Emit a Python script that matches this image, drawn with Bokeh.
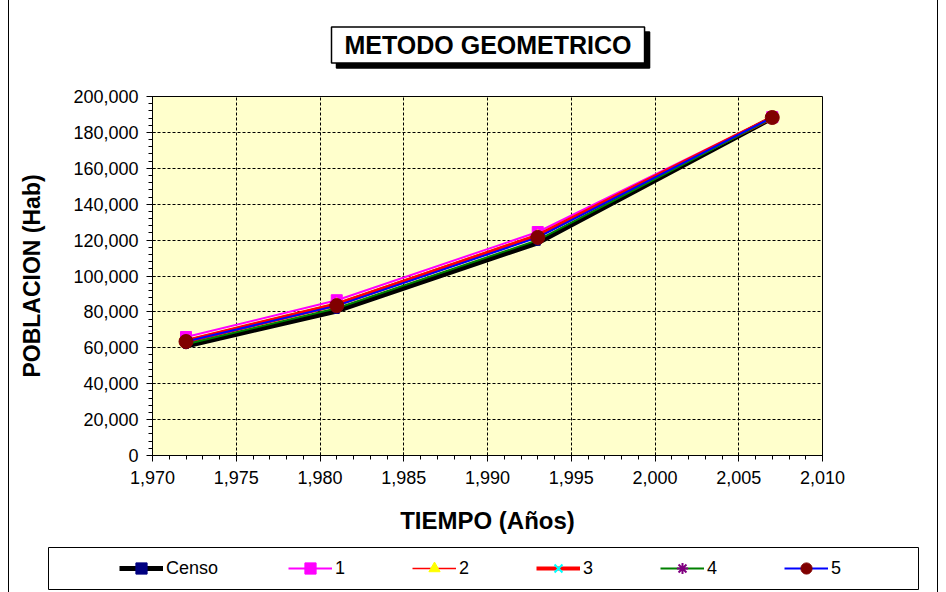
from bokeh.plotting import figure
from bokeh.layouts import column
from bokeh.models import Range1d, NumeralTickFormatter, FixedTicker, Label, Legend, LegendItem
from bokeh.embed import file_html
from bokeh.resources import INLINE

# ---- data ----
years = [1972, 1981, 1993, 2007]
censo = [61000, 80500, 118500, 188000]
serie1 = [66000, 86500, 124500, 188500]
serie2 = [64500, 85000, 123000, 188500]
serie3 = [63500, 84000, 122500, 188300]
serie4 = [62000, 82000, 120000, 188000]
serie5 = [63500, 83500, 121500, 188300]
series_names = ["Censo", "1", "2", "3", "4", "5"]
x_ticks = [1970, 1975, 1980, 1985, 1990, 1995, 2000, 2005, 2010]
y_ticks = [0, 20000, 40000, 60000, 80000, 100000, 120000, 140000, 160000, 180000, 200000]
x_minor = list(range(1970, 2011, 1))
y_minor = list(range(0, 200001, 4000))
chart_title = "METODO GEOMETRICO"

FONT = "Liberation Sans"
W = 928

# ---------------- title strip ----------------
tf = figure(width=W, height=80, output_backend="svg", toolbar_location=None,
            x_axis_type=None, y_axis_type=None, min_border=0, frame_align=False,
            outline_line_color=None, background_fill_color="white", border_fill_color="white")
tf.grid.visible = False
for fill, dx in (("black", 5), ("white", 0)):
    tf.add_layout(Label(x=322, y=35.5, x_units="screen", y_units="screen", text=chart_title,
                        text_align="left", text_baseline="middle",
                        text_font=FONT, text_font_size="25px", text_font_style="bold",
                        text_color="black", background_fill_color=fill,
                        border_line_color="black", border_line_width=1.5,
                        padding=dict(left=13, right=13, top=4, bottom=4),
                        x_offset=dx, y_offset=-dx))

# ---------------- main plot ----------------
p = figure(width=W, height=465,
           x_range=Range1d(1970, 2010), y_range=Range1d(0, 200000),
           output_backend="svg", toolbar_location=None, frame_align=False,
           min_border_left=143, min_border_top=16, min_border_right=115, min_border_bottom=90,
           background_fill_color="#FFFFCC", border_fill_color="white",
           outline_line_color="black", outline_line_width=1)

p.xaxis.ticker = FixedTicker(ticks=x_ticks, minor_ticks=x_minor)
p.yaxis.ticker = FixedTicker(ticks=y_ticks, minor_ticks=y_minor)
for ax in (p.xaxis[0], p.yaxis[0]):
    ax.formatter = NumeralTickFormatter(format="0,0")
    ax.major_label_text_font = FONT
    ax.major_label_text_font_size = "18px"
    ax.major_label_text_color = "black"
    ax.axis_label_text_font = FONT
    ax.axis_label_text_font_size = "23px"
    ax.axis_label_text_font_style = "bold"
    ax.axis_label_text_color = "black"
    ax.axis_line_color = "black"
    ax.major_tick_line_color = "black"
    ax.minor_tick_line_color = "black"
    ax.major_tick_out = 6
    ax.major_tick_in = 3
    ax.minor_tick_out = 4
    ax.minor_tick_in = 0
p.xaxis.axis_label = "TIEMPO (Años)"
p.yaxis.axis_label = "POBLACION (Hab)"
p.xaxis.major_label_standoff = 9
p.yaxis.major_label_standoff = 8
p.xaxis.axis_label_standoff = 20
p.yaxis.axis_label_standoff = 25
p.xaxis.axis_label_text_font_size = "24px"

p.grid.grid_line_color = "black"
p.grid.grid_line_dash = "3 2"
p.grid.grid_line_width = 1
p.xgrid.ticker = FixedTicker(ticks=x_ticks)
p.ygrid.ticker = FixedTicker(ticks=y_ticks)

values = [censo, serie1, serie2, serie3, serie4, serie5]
line_colors = ["black", "#FF00FF", "#FF0000", "#FF0000", "#008000", "#0000FF"]
line_widths = [5, 2, 1.5, 4, 2, 2]
markers = ["square", "square", "triangle", "x", "asterisk", "circle"]
marker_colors = ["#000080", "#FF00FF", "#FFFF00", "#00FFFF", "#800080", "#800000"]
marker_sizes = [5, 11, 9, 11, 10, 14]


def draw_series(fig, visible=True):
    out = []
    for ys, lc, lw, mk, mc, ms in zip(values, line_colors, line_widths, markers,
                                      marker_colors, marker_sizes):
        r1 = fig.line(years, ys, line_color=lc, line_width=lw, visible=visible)
        r2 = fig.scatter(years, ys, marker=mk, size=ms, fill_color=mc, line_color=mc,
                         line_width=2 if mk in ("x", "asterisk") else 1, visible=visible)
        out.append([r1, r2])
    return out


draw_series(p)

# ---------------- legend strip ----------------
lf = figure(width=W, height=47, output_backend="svg", toolbar_location=None,
            x_axis_type=None, y_axis_type=None, frame_align=False,
            min_border_left=39, min_border_right=19, min_border_top=2, min_border_bottom=3,
            outline_line_color="black", outline_line_width=1,
            background_fill_color="white", border_fill_color="white")
lf.grid.visible = False
leg_renderers = draw_series(lf, visible=False)
legend_items = [LegendItem(label=n, renderers=r) for n, r in zip(series_names, leg_renderers)]

common = dict(orientation="horizontal", padding=0, margin=0, glyph_width=44, glyph_height=28,
              label_standoff=3, label_height=18, label_text_font=FONT,
              label_text_font_size="18px", label_text_color="black",
              border_line_color=None, background_fill_alpha=0, click_policy="none")
lf.add_layout(Legend(items=legend_items[:1], location=(71, 7), label_width=20, spacing=0, **common))
lf.add_layout(Legend(items=legend_items[1:], location=(240, 7), label_width=20, spacing=57, **common))

layout = column(tf, p, lf, spacing=0,
                styles={"margin-left": "8px", "border-left": "1px solid #000",
                        "border-right": "1px solid #000"})

open("out.html", "w").write(file_html(layout, INLINE))
